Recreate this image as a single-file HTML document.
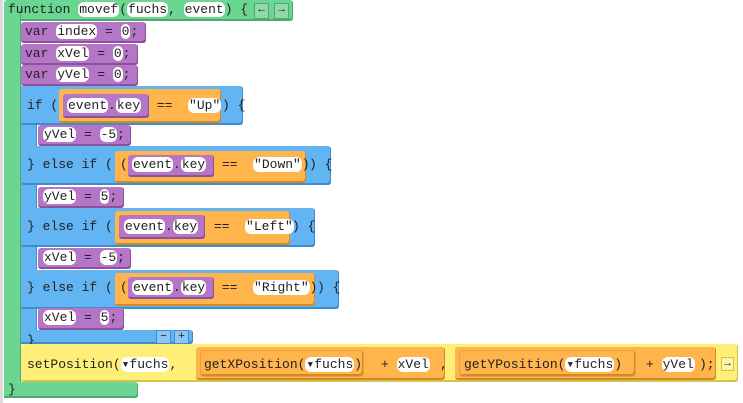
<!DOCTYPE html>
<html><head><meta charset="utf-8"><style>
body{margin:0;width:743px;height:403px;background:#fff;position:relative;overflow:hidden;font-family:"Liberation Mono",monospace;font-size:13px;color:#222}
.b{position:absolute;border-radius:3px}
.g{background:#6bd592;box-shadow:inset -1px -2px 0 #4fa872}
.pu{background:#b676c8;box-shadow:inset -1px -2px 0 #8a5299}
.bl{background:#62b4f2;box-shadow:inset -1px -2px 0 #3f8ccc}
.o{background:#ffb44c;box-shadow:inset -1px -2px 0 #d08a2a}
.y{background:#ffee77;box-shadow:inset -1px -2px 0 #d6c44a}
.t{position:absolute;white-space:pre;line-height:16px}
.p{background:#fff;border-radius:6px;padding:0 1px}
.btn{position:absolute;width:13px;height:14px;background:#8fdaa8;border:1px solid #4fa872;font-size:11px;line-height:13px;text-align:center}
</style></head><body>
<div style="position:absolute;left:0;top:0;width:3px;height:403px;background:#ddd"></div>
<!-- function block -->
<div class="b g" style="left:4px;top:0;width:289px;height:21px"></div>
<div class="b g" style="left:4px;top:10px;width:17px;height:388px;border-radius:0"></div>
<div class="b g" style="left:4px;top:382px;width:134px;height:16px"></div>
<div class="t" style="left:8px;top:2px">function <span class="p">movef</span>(<span class="p">fuchs</span>, <span class="p">event</span>) {</div>
<div class="btn" style="left:254px;top:3px">←</div>
<div class="btn" style="left:274px;top:3px">→</div>
<div class="t" style="left:8px;top:382px">}</div>
<!-- vars -->
<div class="b pu" style="left:21px;top:22px;width:125px;height:21px"></div>
<div class="t" style="left:25px;top:24px">var <span class="p">index</span> = <span class="p">0</span>;</div>
<div class="b pu" style="left:21px;top:44px;width:117px;height:21px"></div>
<div class="t" style="left:25px;top:46px">var <span class="p">xVel</span> = <span class="p">0</span>;</div>
<div class="b pu" style="left:21px;top:65px;width:117px;height:21px"></div>
<div class="t" style="left:25px;top:67px">var <span class="p">yVel</span> = <span class="p">0</span>;</div>
<!-- if -->
<div class="b bl" style="left:21px;top:86px;width:16px;height:258px;border-radius:0"></div>
<div class="b bl" style="left:21px;top:86px;width:222px;height:39px"></div>
<div class="b bl" style="left:21px;top:146px;width:310px;height:39px"></div>
<div class="b bl" style="left:21px;top:208px;width:294px;height:39px"></div>
<div class="b bl" style="left:21px;top:270px;width:318px;height:39px"></div>
<div class="b bl" style="left:21px;top:330px;width:172px;height:14px"></div>
<div class="btn" style="left:156px;top:330px;background:#8cc6f5;border-color:#3f8ccc;height:12px;line-height:12px">−</div>
<div class="btn" style="left:174px;top:330px;background:#8cc6f5;border-color:#3f8ccc;height:12px;line-height:12px">+</div>
<div class="t" style="left:27px;top:333px">}</div>

<div class="t" style="left:27px;top:98px">if (</div>
<div class="b o" style="left:59px;top:89px;width:162px;height:34px"></div>
<div class="b pu" style="left:63px;top:94px;width:86px;height:24px"></div>
<div class="t" style="left:67px;top:98px"><span class="p">event</span>.<span class="p">key</span>  ==  <span class="p">"Up"</span></div>
<div class="t" style="left:222px;top:98px">) {</div>

<div class="b pu" style="left:38px;top:125px;width:93px;height:21px"></div>
<div class="t" style="left:43px;top:127px"><span class="p">yVel</span> = <span class="p">-5</span>;</div>

<div class="t" style="left:27px;top:157px">} else if (</div>
<div class="b o" style="left:115px;top:151px;width:191px;height:32px"></div>
<div class="t" style="left:120px;top:157px">(</div>
<div class="b pu" style="left:128px;top:155px;width:86px;height:22px"></div>
<div class="t" style="left:132px;top:157px"><span class="p">event</span>.<span class="p">key</span>  ==  <span class="p">"Down"</span>)</div>
<div class="t" style="left:309px;top:157px">) {</div>

<div class="b pu" style="left:38px;top:187px;width:86px;height:21px"></div>
<div class="t" style="left:43px;top:189px"><span class="p">yVel</span> = <span class="p">5</span>;</div>

<div class="t" style="left:27px;top:219px">} else if (</div>
<div class="b o" style="left:115px;top:211px;width:175px;height:34px"></div>
<div class="b pu" style="left:119px;top:215px;width:86px;height:24px"></div>
<div class="t" style="left:124px;top:219px"><span class="p">event</span>.<span class="p">key</span>  ==  <span class="p">"Left"</span></div>
<div class="t" style="left:292px;top:219px">) {</div>

<div class="b pu" style="left:38px;top:248px;width:93px;height:21px"></div>
<div class="t" style="left:43px;top:250px"><span class="p">xVel</span> = <span class="p">-5</span>;</div>

<div class="t" style="left:27px;top:280px">} else if (</div>
<div class="b o" style="left:115px;top:273px;width:200px;height:33px"></div>
<div class="t" style="left:120px;top:280px">(</div>
<div class="b pu" style="left:128px;top:277px;width:86px;height:22px"></div>
<div class="t" style="left:132px;top:280px"><span class="p">event</span>.<span class="p">key</span>  ==  <span class="p">"Right"</span>)</div>
<div class="t" style="left:317px;top:280px">) {</div>

<div class="b pu" style="left:38px;top:308px;width:86px;height:22px"></div>
<div class="t" style="left:43px;top:310px"><span class="p">xVel</span> = <span class="p">5</span>;</div>

<!-- setPosition -->
<div class="b y" style="left:21px;top:344px;width:717px;height:38px"></div>
<div class="t" style="left:27px;top:357px">setPosition(<span class="p">▾fuchs</span>,</div>
<div class="b o" style="left:196px;top:347px;width:249px;height:33px"></div>
<div class="b o" style="left:201px;top:351px;width:162px;height:25px;box-shadow:inset -1px -2px 0 #d08a2a,0 0 0 1px #e8a040"></div>
<div class="t" style="left:204px;top:357px">getXPosition(<span class="p">▾fuchs</span>)</div>
<div class="t" style="left:381px;top:357px">+ <span class="p">xVel</span></div>
<div class="t" style="left:440px;top:357px">,</div>
<div class="b o" style="left:455px;top:347px;width:261px;height:33px"></div>
<div class="b o" style="left:460px;top:351px;width:175px;height:25px;box-shadow:inset -1px -2px 0 #d08a2a,0 0 0 1px #e8a040"></div>
<div class="t" style="left:464px;top:357px">getYPosition(<span class="p">▾fuchs</span>)</div>
<div class="t" style="left:646px;top:357px">+ <span class="p">yVel</span></div>
<div class="t" style="left:699px;top:357px">);</div>
<div class="btn" style="left:721px;top:357px;width:11px;height:12px;line-height:12px;background:#fff6a8;border-color:#d6c44a">→</div>
</body></html>
